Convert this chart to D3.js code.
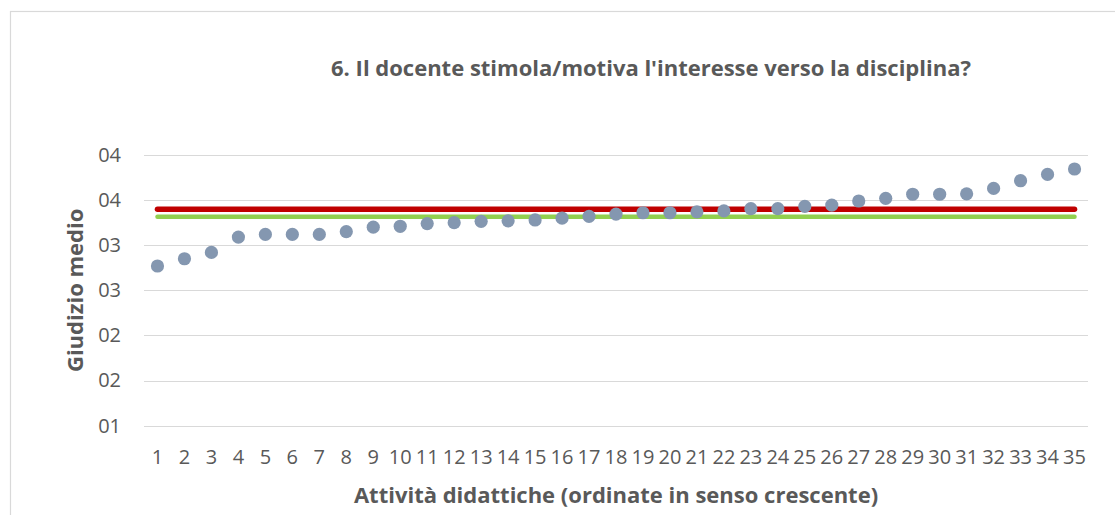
<!DOCTYPE html>
<html>
<head>
<meta charset="utf-8">
<script src="https://cdn.jsdelivr.net/npm/d3@7"></script>
<style>
  html, body { margin: 0; padding: 0; background: #fff; }
  svg { display: block; }
  text { font-family: "Open Sans", Lato, sans-serif; fill: #595959; }
</style>
</head>
<body>
<svg id="chart" width="1115" height="515"></svg>
<script>
// ---- data ----
const categories = d3.range(1, 36);
const values = [
  2.77, 2.85, 2.92, 3.09, 3.12, 3.12, 3.12, 3.15, 3.20, 3.21,
  3.24, 3.25, 3.265, 3.27, 3.28, 3.30, 3.32, 3.345, 3.36, 3.36,
  3.37, 3.38, 3.405, 3.405, 3.43, 3.445, 3.49, 3.52, 3.565, 3.565,
  3.57, 3.63, 3.715, 3.785, 3.845
];
const redLineValue = 3.40;
const greenLineValue = 3.316;
const yTicks = [1, 1.5, 2, 2.5, 3, 3.5, 4];
const title = "6. Il docente stimola/motiva l'interesse verso la disciplina?";
const xTitle = "Attività didattiche (ordinate in senso crescente)";
const yTitle = "Giudizio medio";

// ---- layout ----
const svg = d3.select("#chart");
const plot = { left: 144, right: 1088, top: 155, bottom: 425.7 };
const FONT = '"Open Sans", Lato, sans-serif';

svg.append("rect")
  .attr("x", 10.5).attr("y", 11.5)
  .attr("width", 1115).attr("height", 520)
  .attr("fill", "#fff").attr("stroke", "#d9d9d9").attr("stroke-width", 1.2);

const x = d3.scaleBand().domain(categories).range([plot.left, plot.right]);
const y = d3.scaleLinear().domain([1, 4]).range([plot.bottom, plot.top]);
const cx = d => x(d) + x.bandwidth() / 2;

// gridlines
svg.append("g").selectAll("line").data(yTicks).join("line")
  .attr("x1", plot.left).attr("x2", plot.right)
  .attr("y1", d => Math.round(y(d)) + 0.5).attr("y2", d => Math.round(y(d)) + 0.5)
  .attr("stroke", "#d9d9d9").attr("stroke-width", 1.2);

// y axis
const yAxis = svg.append("g")
  .attr("transform", `translate(${plot.left},0)`)
  .call(d3.axisLeft(y).tickValues(yTicks).tickFormat(d3.format("02.0f")).tickSize(0).tickPadding(23));
yAxis.select(".domain").remove();
yAxis.selectAll("text").style("font-family", FONT).style("font-size", "20px").attr("fill", "#595959");

// x axis
const xAxis = svg.append("g")
  .attr("transform", `translate(0,${plot.bottom})`)
  .call(d3.axisBottom(x).tickSize(0).tickPadding(24));
xAxis.select(".domain").remove();
xAxis.selectAll("text").style("font-family", FONT).style("font-size", "20px").attr("fill", "#595959");

// reference lines
const x0 = cx(categories[0]), x1 = cx(categories[categories.length - 1]);
svg.append("line")
  .attr("x1", x0).attr("x2", x1)
  .attr("y1", y(redLineValue)).attr("y2", y(redLineValue))
  .attr("stroke", "#C00000").attr("stroke-width", 5.5).attr("stroke-linecap", "round");
svg.append("line")
  .attr("x1", x0).attr("x2", x1)
  .attr("y1", y(greenLineValue)).attr("y2", y(greenLineValue))
  .attr("stroke", "#92D050").attr("stroke-width", 4.5).attr("stroke-linecap", "round");

// points
svg.append("g").selectAll("circle").data(values).join("circle")
  .attr("cx", (d, i) => cx(categories[i]))
  .attr("cy", d => y(d))
  .attr("r", 6.6)
  .attr("fill", "#8497B0");

// titles
svg.append("text")
  .attr("x", 651).attr("y", 76)
  .attr("text-anchor", "middle")
  .style("font-size", "22px").style("font-weight", "bold")
  .text(title);

svg.append("text")
  .attr("x", (plot.left + plot.right) / 2).attr("y", 503)
  .attr("text-anchor", "middle")
  .style("font-size", "22px").style("font-weight", "bold")
  .text(xTitle);

svg.append("text")
  .attr("transform", `translate(83,${(plot.top + plot.bottom) / 2}) rotate(-90)`)
  .attr("text-anchor", "middle")
  .style("font-size", "22px").style("font-weight", "bold")
  .text(yTitle);
</script>
</body>
</html>
